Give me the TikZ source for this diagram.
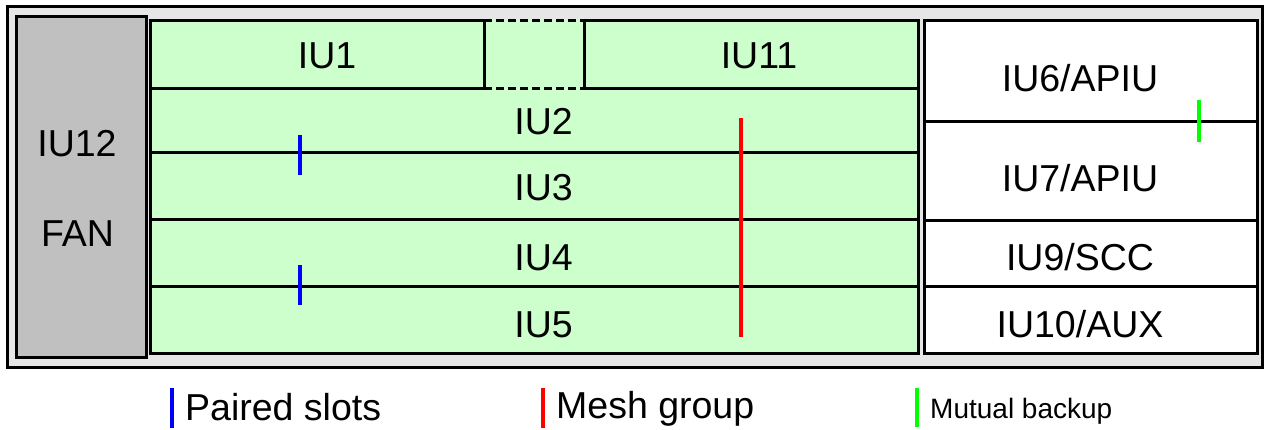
\documentclass[tikz,border=0pt]{standalone}
\usepackage{fontspec}
\setmainfont{Liberation Sans}
\definecolor{slotgreen}{HTML}{CCFFCC}
\definecolor{framegray}{HTML}{E6E6E6}
\definecolor{fangray}{HTML}{C0C0C0}
\definecolor{pairblue}{HTML}{0000FF}
\definecolor{meshred}{HTML}{FF0000}
\definecolor{backupgreen}{HTML}{00FF00}
\begin{document}
\begin{tikzpicture}[x=1pt,y=-1pt,
  slotbox/.style={draw=black, line width=3pt, inner sep=0pt, outer sep=0pt, anchor=north west},
  greenslot/.style={slotbox, fill=slotgreen},
  whiteslot/.style={slotbox, fill=white},
  lbl/.style={font=\fontsize{37.5}{40}\selectfont, inner sep=0pt, anchor=base},
  leglbl/.style={font=\fontsize{37.5}{40}\selectfont, inner sep=0pt, anchor=base west},
  smallleglbl/.style={font=\fontsize{28}{30}\selectfont, inner sep=0pt, anchor=base west},
  relbar/.style={line width=4pt},
  gapline/.style={line width=3pt, dash pattern=on 8pt off 4pt},
]
\useasboundingbox (0,0) rectangle (1266,430);

% outer frame
\node[slotbox, fill=framegray, minimum width=1255pt, minimum height=360pt] (frame) at (7,7) {};
% fan
\node[slotbox, fill=fangray, minimum width=130pt, minimum height=340pt] (fan) at (16,17) {};
\node[lbl] (tIU12) at (77,157) {IU12};
\node[lbl] (tFAN) at (77.5,247) {FAN};

% green rows
\node[greenslot, minimum width=768pt, minimum height=64pt] (iu2) at (150,89) {};
\node[greenslot, minimum width=768pt, minimum height=67pt] (iu3) at (150,153) {};
\node[greenslot, minimum width=768pt, minimum height=67pt] (iu4) at (150,220) {};
\node[greenslot, minimum width=768pt, minimum height=66pt] (iu5) at (150,287) {};
\node[lbl] (tIU2) at (543.5,135) {IU2};
\node[lbl] (tIU3) at (543.5,201) {IU3};
\node[lbl] (tIU4) at (543.5,271) {IU4};
\node[lbl] (tIU5) at (543.5,337) {IU5};

% top row
\node[slotbox, fill=slotgreen, draw=none, minimum width=100pt, minimum height=70pt] (gap) at (484,20) {};
\coordinate (gnw) at (484,21); \coordinate (gne) at (584,21);
\coordinate (gsw) at (484,89); \coordinate (gse) at (584,89);
\draw[gapline] (gnw) -- (gne);
\draw[gapline] (gsw) -- (gse);
\node[greenslot, minimum width=334pt, minimum height=68pt] (iu1) at (150,21) {};
\node[greenslot, minimum width=334pt, minimum height=68pt] (iu11) at (584,21) {};
\node[lbl] (tIU1) at (327,69) {IU1};
\node[lbl] (tIU11) at (759,69) {IU11};

% right column
\node[whiteslot, minimum width=333pt, minimum height=101pt] (iu6) at (924,21) {};
\node[whiteslot, minimum width=333pt, minimum height=99pt] (iu7) at (924,122) {};
\node[whiteslot, minimum width=333pt, minimum height=66pt] (iu9) at (924,221) {};
\node[whiteslot, minimum width=333pt, minimum height=66pt] (iu10) at (924,287) {};
\node[lbl] (tIU6) at (1080,92) {IU6/APIU};
\node[lbl] (tIU7) at (1080,192) {IU7/APIU};
\node[lbl] (tIU9) at (1080,271) {IU9/SCC};
\node[lbl] (tIU10) at (1080,337) {IU10/AUX};

% relation marks
\coordinate (p1a) at (300,135); \coordinate (p1b) at (300,175);
\coordinate (p2a) at (300,265); \coordinate (p2b) at (300,305);
\coordinate (ma) at (741,118); \coordinate (mb) at (741,337);
\coordinate (ba) at (1199,100); \coordinate (bb) at (1199,142);
\draw[relbar, pairblue] (p1a) -- (p1b);
\draw[relbar, pairblue] (p2a) -- (p2b);
\draw[line width=3.5pt, meshred] (ma) -- (mb);
\draw[relbar, backupgreen] (ba) -- (bb);

% legend
\coordinate (lb1) at (172,388); \coordinate (lb2) at (172,428);
\coordinate (lr1) at (543,388); \coordinate (lr2) at (543,428);
\coordinate (lg1) at (917,388); \coordinate (lg2) at (917,427);
\draw[relbar, pairblue] (lb1) -- (lb2);
\draw[relbar, meshred] (lr1) -- (lr2);
\draw[relbar, backupgreen] (lg1) -- (lg2);
\node[leglbl] (legpair) at (185,420) {Paired slots};
\node[leglbl] (legmesh) at (556,418) {Mesh group};
\node[smallleglbl] (legbackup) at (930,418) {Mutual backup};
\end{tikzpicture}
\end{document}
